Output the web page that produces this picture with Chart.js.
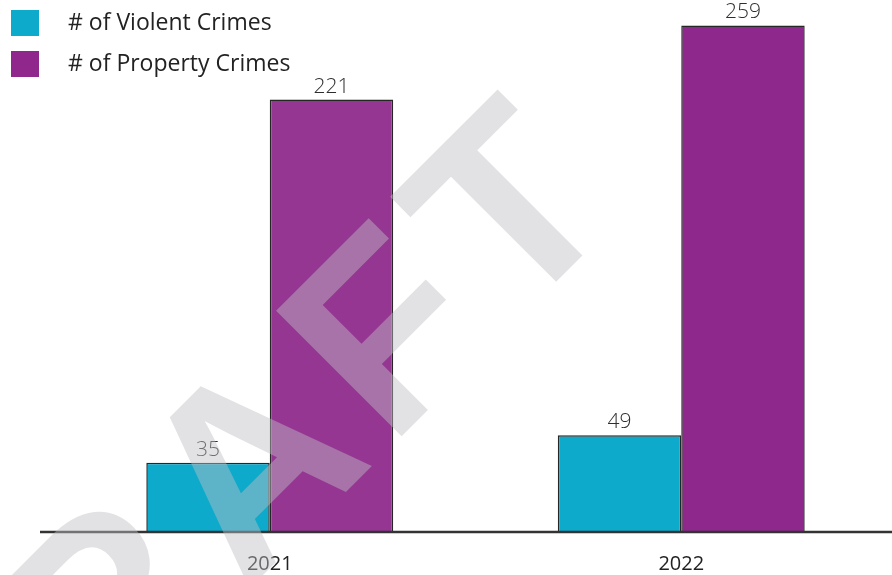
<!DOCTYPE html>
<html>
<head>
<meta charset="utf-8">
<script src="https://cdn.jsdelivr.net/npm/chart.js@4.4.0/dist/chart.umd.min.js"></script>
<style>
  html, body { margin: 0; padding: 0; background: #ffffff; }
  #wrap { position: relative; width: 892px; height: 575px; }
</style>
</head>
<body>
<div id="wrap"><canvas id="crimeChart"></canvas></div>
<script>
// Reported crimes per year
const years = ['2021', '2022'];
const violentCrimes = [35, 49];
const propertyCrimes = [221, 259];
const seriesNames = ['# of Violent Crimes', '# of Property Crimes'];
const watermarkText = 'DRAFT';

const CYAN = '#0eaacc';
const PURPLE = ['#953692', '#8f288c'];
const LEGEND_PURPLE = '#8f278c';
const BAR_EDGE = '#262626';
const TEXT_DARK = '#222222';

// Axis baseline that runs wider than the plot area
const baselinePlugin = {
  id: 'baseline',
  afterDatasetsDraw(chart) {
    const { ctx } = chart;
    const y = chart.scales.y.getPixelForValue(0);
    ctx.save();
    ctx.strokeStyle = '#333333';
    ctx.lineWidth = 2.5;
    ctx.beginPath();
    ctx.moveTo(40, y + 1);
    ctx.lineTo(chart.width, y + 1);
    ctx.stroke();
    ctx.restore();
  }
};

// Value printed above every bar
const valueLabelPlugin = {
  id: 'valueLabels',
  afterDatasetsDraw(chart) {
    const { ctx } = chart;
    ctx.save();
    ctx.font = '300 21px "Open Sans", sans-serif';
    ctx.fillStyle = '#2e2e2e';
    ctx.textAlign = 'center';
    ctx.textBaseline = 'alphabetic';
    chart.data.datasets.forEach((ds, i) => {
      const meta = chart.getDatasetMeta(i);
      meta.data.forEach((bar, j) => {
        ctx.fillText(String(ds.data[j]), bar.x, bar.y - 7);
      });
    });
    ctx.restore();
  }
};

// Stacked legend in the top-left corner
const cornerLegendPlugin = {
  id: 'cornerLegend',
  afterDraw(chart) {
    const { ctx } = chart;
    const swatches = [CYAN, LEGEND_PURPLE];
    ctx.save();
    ctx.font = '23px "Open Sans", sans-serif';
    ctx.textAlign = 'left';
    ctx.textBaseline = 'middle';
    chart.data.datasets.forEach((ds, i) => {
      const top = 10 + i * 41;
      ctx.fillStyle = swatches[i];
      ctx.fillRect(11, top, 28, 26);
      ctx.fillStyle = TEXT_DARK;
      ctx.fillText(ds.label, 68, top + 13);
    });
    ctx.restore();
  }
};

// Diagonal "DRAFT" stamp across the plot
const watermarkPlugin = {
  id: 'watermark',
  afterDraw(chart) {
    const { ctx } = chart;
    ctx.save();
    ctx.translate(-44, 882);
    ctx.rotate(-Math.PI / 4);
    ctx.font = 'bold 258px "Liberation Sans", Arial, sans-serif';
    if ('letterSpacing' in ctx) ctx.letterSpacing = '18px';
    ctx.fillStyle = 'rgba(190, 190, 196, 0.45)';
    ctx.textAlign = 'left';
    ctx.textBaseline = 'alphabetic';
    ctx.fillText(watermarkText, 0, 0);
    ctx.restore();
  }
};

new Chart(document.getElementById('crimeChart'), {
  type: 'bar',
  data: {
    labels: years,
    datasets: [
      {
        label: seriesNames[0],
        data: violentCrimes,
        backgroundColor: CYAN,
        borderColor: BAR_EDGE,
        borderWidth: 1.5
      },
      {
        label: seriesNames[1],
        data: propertyCrimes,
        backgroundColor: PURPLE,
        borderColor: BAR_EDGE,
        borderWidth: 1.5
      }
    ]
  },
  options: {
    responsive: true,
    maintainAspectRatio: false,
    animation: false,
    devicePixelRatio: 1,
    layout: { padding: { left: 64, right: 5, top: 0, bottom: 0 } },
    datasets: {
      bar: { barPercentage: 1, categoryPercentage: 0.6 }
    },
    plugins: {
      legend: { display: false },
      tooltip: { enabled: false }
    },
    scales: {
      x: {
        grid: { display: false, drawTicks: false },
        border: { display: false },
        ticks: {
          color: TEXT_DARK,
          font: { family: '"Open Sans", sans-serif', size: 20 },
          padding: 21
        },
        afterFit(scale) { scale.height = 44; }
      },
      y: {
        display: false,
        min: 0,
        max: 272
      }
    }
  },
  plugins: [baselinePlugin, valueLabelPlugin, cornerLegendPlugin, watermarkPlugin]
});
</script>
</body>
</html>
